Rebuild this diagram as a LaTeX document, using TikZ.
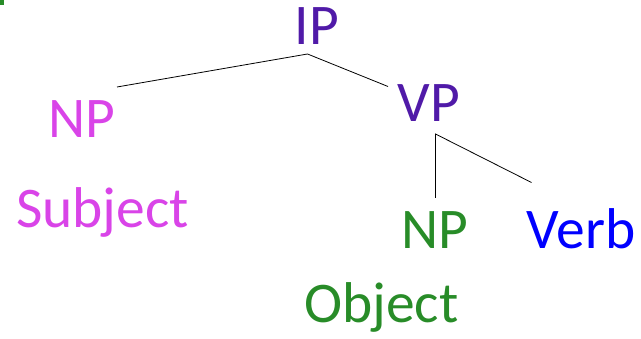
\documentclass[tikz,border=0pt]{standalone}
\usepackage{fontspec}
\setmainfont{Carlito}
\definecolor{ipcol}{RGB}{80,26,168}
\definecolor{subjcol}{RGB}{217,68,232}
\definecolor{objcol}{RGB}{40,140,40}
\definecolor{verbcol}{RGB}{0,0,255}
\tikzset{
  lbl/.style={inner sep=0pt, anchor=base west, font=\fontsize{57.5}{60}\selectfont},
  branch/.style={draw=black, line width=0.8pt}
}
\begin{document}
\begin{tikzpicture}[x=1pt,y=-1pt]
\useasboundingbox (0,0) rectangle (641,339);
\fill[objcol] (0,0) rectangle (3.5,5);
\node[lbl, text=ipcol] (ip) at (294.5,45) {IP};
\node[lbl, text=ipcol] (vp) at (397.5,122) {VP};
\node[lbl, text=subjcol] (np1) at (48.5,138) {NP};
\node[lbl, text=subjcol] (subj) at (16,228) {Subject};
\node[lbl, text=objcol] (np2) at (401.5,249) {NP};
\node[lbl, text=objcol] (obj) at (304,323) {Object};
\node[lbl, text=verbcol] (verb) at (526.5,249) {Verb};
\coordinate (ipj) at (307.5,54);
\coordinate (npend) at (117,87);
\coordinate (vpend) at (388,86.5);
\coordinate (vpj) at (435.5,134);
\coordinate (np2end) at (435.5,198);
\coordinate (verbend) at (531.5,182.5);
\draw[branch] (npend) -- (ipj) -- (vpend);
\draw[branch] (np2end) -- (vpj) -- (verbend);
\end{tikzpicture}
\end{document}
